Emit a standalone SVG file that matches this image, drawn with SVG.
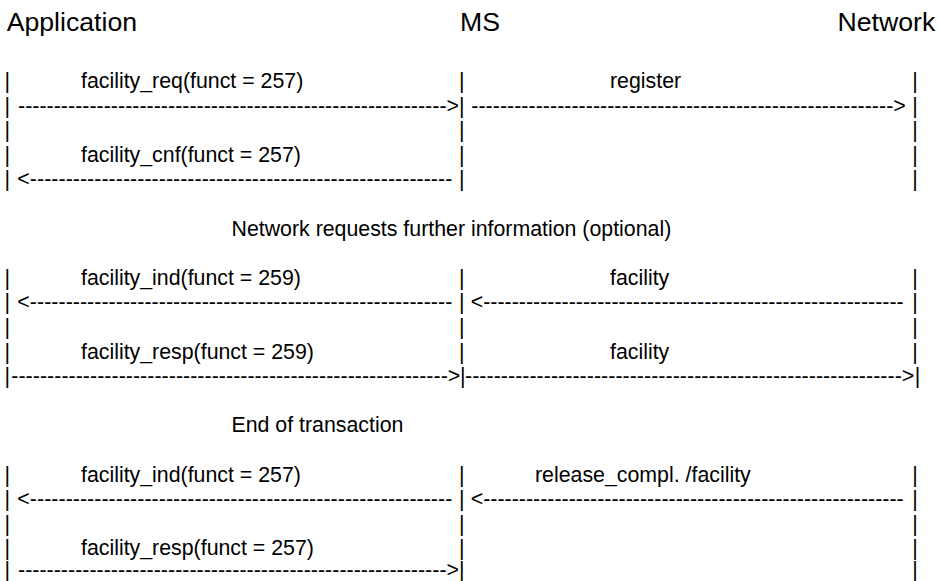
<svg xmlns="http://www.w3.org/2000/svg" xmlns:xlink="http://www.w3.org/1999/xlink" width="938" height="581" viewBox="0 0 938 581">
<style>
text { font-family: "Liberation Sans", Arial, sans-serif; fill: #000; }
.h { font-size: 26.67px; }
.t { font-size: 21.33px; }
.d { font-size: 21.33px; }
</style>
<defs>
<text id="bar" x="0" y="0" class="t" text-anchor="middle">|</text>
</defs>
<rect width="938" height="581" fill="#fff"/>

<g id="application">
  <text class="h" x="6.7" y="31">Application</text>
  <use href="#bar" x="7.3" y="88"/>
  <use href="#bar" x="7.3" y="112.6"/>
  <use href="#bar" x="7.3" y="137.2"/>
  <use href="#bar" x="7.3" y="161.8"/>
  <use href="#bar" x="7.3" y="186.4"/>
  <use href="#bar" x="7.3" y="284.8"/>
  <use href="#bar" x="7.3" y="309.4"/>
  <use href="#bar" x="7.3" y="334"/>
  <use href="#bar" x="7.3" y="358.6"/>
  <use href="#bar" x="7.3" y="383.2"/>
  <use href="#bar" x="7.3" y="481.6"/>
  <use href="#bar" x="7.3" y="506.2"/>
  <use href="#bar" x="7.3" y="530.8"/>
  <use href="#bar" x="7.3" y="555.4"/>
  <use href="#bar" x="7.3" y="577"/>
</g>

<g id="ms">
  <text class="h" x="460" y="31">MS</text>
  <use href="#bar" x="461.7" y="88"/>
  <use href="#bar" x="461.7" y="112.6"/>
  <use href="#bar" x="461.7" y="137.2"/>
  <use href="#bar" x="461.7" y="161.8"/>
  <use href="#bar" x="461.7" y="186.4"/>
  <use href="#bar" x="461.7" y="284.8"/>
  <use href="#bar" x="461.7" y="309.4"/>
  <use href="#bar" x="461.7" y="334"/>
  <use href="#bar" x="461.7" y="358.6"/>
  <use href="#bar" x="462.7" y="383.2"/>
  <use href="#bar" x="461.7" y="481.6"/>
  <use href="#bar" x="461.7" y="506.2"/>
  <use href="#bar" x="461.7" y="530.8"/>
  <use href="#bar" x="461.7" y="555.4"/>
  <use href="#bar" x="461.7" y="577"/>
</g>

<g id="network">
  <text class="h" x="837.5" y="31">Network</text>
  <use href="#bar" x="915" y="88"/>
  <use href="#bar" x="915" y="112.6"/>
  <use href="#bar" x="915" y="137.2"/>
  <use href="#bar" x="915" y="161.8"/>
  <use href="#bar" x="915" y="186.4"/>
  <use href="#bar" x="915" y="284.8"/>
  <use href="#bar" x="915" y="309.4"/>
  <use href="#bar" x="915" y="334"/>
  <use href="#bar" x="915" y="358.6"/>
  <use href="#bar" x="917.5" y="383.2"/>
  <use href="#bar" x="915" y="481.6"/>
  <use href="#bar" x="915" y="506.2"/>
  <use href="#bar" x="915" y="530.8"/>
  <use href="#bar" x="915" y="555.4"/>
  <use href="#bar" x="915" y="577"/>
</g>

<g id="section-labels">
  <text class="t" x="231.5" y="235.6">Network requests further information (optional)</text>
  <text class="t" x="231.5" y="432.4">End of transaction</text>
</g>

<g id="connectors">
  <g id="m1">
    <text class="t" x="81" y="88">facility_req(funct = 257)</text>
    <text class="d" x="18" y="112.6" textLength="441" lengthAdjust="spacing">------------------------------------------------------------&gt;</text>
  </g>
  <g id="m2">
    <text class="t" x="610" y="88">register</text>
    <text class="d" x="471.3" y="112.6" textLength="434.5" lengthAdjust="spacing">-----------------------------------------------------------&gt;</text>
  </g>
  <g id="m3">
    <text class="t" x="81" y="161.8">facility_cnf(funct = 257)</text>
    <text class="d" x="17.3" y="186.4" textLength="435" lengthAdjust="spacing">&lt;-----------------------------------------------------------</text>
  </g>
  <g id="m4">
    <text class="t" x="610" y="284.8">facility</text>
    <text class="d" x="470.7" y="309.4" textLength="433" lengthAdjust="spacing">&lt;-----------------------------------------------------------</text>
  </g>
  <g id="m5">
    <text class="t" x="81" y="284.8">facility_ind(funct = 259)</text>
    <text class="d" x="17.3" y="309.4" textLength="435" lengthAdjust="spacing">&lt;-----------------------------------------------------------</text>
  </g>
  <g id="m6">
    <text class="t" x="81" y="358.6">facility_resp(funct = 259)</text>
    <text class="d" x="11.3" y="383.2" textLength="449" lengthAdjust="spacing">-------------------------------------------------------------&gt;</text>
  </g>
  <g id="m7">
    <text class="t" x="610" y="358.6">facility</text>
    <text class="d" x="465" y="383.2" textLength="449.3" lengthAdjust="spacing">-------------------------------------------------------------&gt;</text>
  </g>
  <g id="m8">
    <text class="t" x="535" y="481.6">release_compl. /facility</text>
    <text class="d" x="470.7" y="506.2" textLength="433" lengthAdjust="spacing">&lt;-----------------------------------------------------------</text>
  </g>
  <g id="m9">
    <text class="t" x="81" y="481.6">facility_ind(funct = 257)</text>
    <text class="d" x="17.3" y="506.2" textLength="435" lengthAdjust="spacing">&lt;-----------------------------------------------------------</text>
  </g>
  <g id="m10">
    <text class="t" x="81" y="555.4">facility_resp(funct = 257)</text>
    <text class="d" x="18" y="577" textLength="441" lengthAdjust="spacing">------------------------------------------------------------&gt;</text>
  </g>
</g>
</svg>
